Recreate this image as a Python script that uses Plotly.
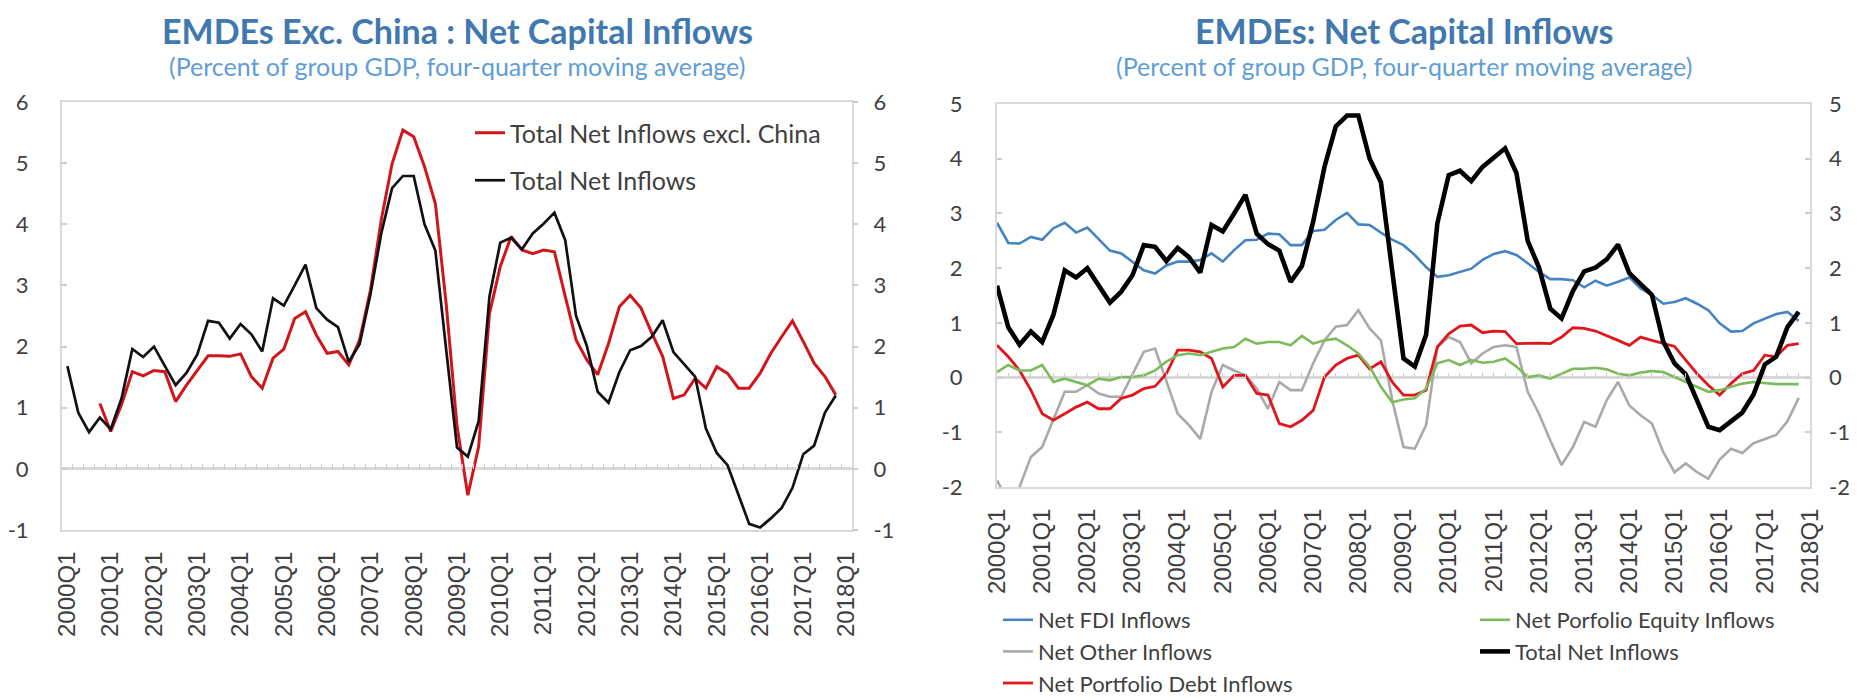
import plotly.graph_objects as go

# ---------------- data ----------------
QUARTERS = [f"{y}Q{q}" for y in range(2000, 2019) for q in range(1, 5)][:73]   # 2000Q1 .. 2018Q1
DATA_QUARTERS = QUARTERS[:72]                                                   # 2000Q1 .. 2017Q4
TICK_LABELS = [f"{y}Q1" for y in range(2000, 2019)]

L_YTICKS = [-1, 0, 1, 2, 3, 4, 5, 6]
R_YTICKS = [-2, -1, 0, 1, 2, 3, 4, 5]

TOTAL_NET = [1.68, 0.92, 0.60, 0.84, 0.65, 1.15, 1.96, 1.83, 2.00, 1.68, 1.37, 1.57,
             1.87, 2.42, 2.39, 2.13, 2.37, 2.20, 1.92, 2.79, 2.67, 3.00, 3.34, 2.63,
             2.44, 2.32, 1.75, 2.04, 2.85, 3.85, 4.59, 4.79, 4.79, 4.00, 3.57, 1.95,
             0.35, 0.20, 0.78, 2.82, 3.70, 3.78, 3.59, 3.85, 4.01, 4.19, 3.74, 2.50,
             2.01, 1.26, 1.08, 1.58, 1.94, 2.01, 2.16, 2.43, 1.91, 1.71, 1.51, 0.66,
             0.26, 0.06, -0.43, -0.90, -0.96, -0.81, -0.64, -0.31, 0.24, 0.38, 0.92, 1.20]

TOTAL_EXCL_CHINA = [None, None, None, 1.07, 0.61, 1.05, 1.59, 1.52, 1.61, 1.59, 1.10, 1.37,
                    1.61, 1.85, 1.85, 1.84, 1.88, 1.51, 1.32, 1.81, 1.96, 2.46, 2.57, 2.19,
                    1.89, 1.92, 1.70, 2.11, 2.92, 4.07, 4.99, 5.54, 5.43, 4.94, 4.34, 2.70,
                    0.70, -0.43, 0.36, 2.54, 3.31, 3.80, 3.58, 3.52, 3.58, 3.55, 2.82, 2.11,
                    1.78, 1.54, 2.05, 2.65, 2.84, 2.63, 2.22, 1.84, 1.15, 1.21, 1.48, 1.32,
                    1.67, 1.56, 1.32, 1.32, 1.56, 1.89, 2.16, 2.42, 2.08, 1.73, 1.51, 1.21]

NET_FDI = [2.83, 2.46, 2.45, 2.57, 2.52, 2.73, 2.83, 2.65, 2.74, 2.52, 2.32, 2.27,
           2.12, 1.96, 1.90, 2.05, 2.12, 2.12, 2.15, 2.27, 2.12, 2.33, 2.51, 2.52,
           2.63, 2.62, 2.42, 2.42, 2.68, 2.70, 2.88, 3.01, 2.80, 2.79, 2.65, 2.52,
           2.42, 2.24, 2.02, 1.84, 1.87, 1.93, 1.99, 2.15, 2.26, 2.31, 2.24, 2.09,
           1.93, 1.80, 1.80, 1.78, 1.65, 1.77, 1.68, 1.75, 1.83, 1.63, 1.51, 1.35,
           1.38, 1.45, 1.35, 1.23, 0.99, 0.84, 0.85, 0.99, 1.08, 1.16, 1.20, 1.04]

NET_EQUITY = [0.10, 0.23, 0.13, 0.13, 0.23, -0.08, -0.02, -0.08, -0.14, -0.02, -0.05, 0.01,
              0.01, 0.04, 0.13, 0.29, 0.41, 0.44, 0.41, 0.47, 0.53, 0.56, 0.71, 0.62,
              0.65, 0.65, 0.59, 0.76, 0.62, 0.68, 0.71, 0.59, 0.44, 0.20, -0.17, -0.45,
              -0.40, -0.38, -0.20, 0.26, 0.32, 0.23, 0.32, 0.27, 0.29, 0.35, 0.20, 0.01,
              0.04, -0.02, 0.07, 0.16, 0.16, 0.18, 0.15, 0.07, 0.04, 0.09, 0.12, 0.10,
              0.01, -0.08, -0.17, -0.26, -0.23, -0.17, -0.11, -0.08, -0.10, -0.12, -0.12, -0.12]

NET_OTHER = [-1.88, -2.25, -2.00, -1.45, -1.27, -0.75, -0.26, -0.26, -0.14, -0.29, -0.35, -0.35,
             0.07, 0.47, 0.53, -0.05, -0.66, -0.87, -1.12, -0.26, 0.23, 0.13, 0.04, -0.20,
             -0.57, -0.08, -0.23, -0.23, 0.26, 0.68, 0.93, 0.96, 1.23, 0.90, 0.68, -0.41,
             -1.27, -1.30, -0.87, 0.56, 0.74, 0.65, 0.26, 0.44, 0.56, 0.59, 0.56, -0.26,
             -0.66, -1.15, -1.60, -1.27, -0.81, -0.90, -0.41, -0.08, -0.51, -0.69, -0.84, -1.36,
             -1.73, -1.57, -1.73, -1.85, -1.50, -1.30, -1.38, -1.20, -1.12, -1.05, -0.80, -0.37]

NET_DEBT = [0.59, 0.38, 0.13, -0.23, -0.66, -0.78, -0.66, -0.54, -0.45, -0.57, -0.57, -0.38,
            -0.32, -0.20, -0.16, 0.07, 0.50, 0.50, 0.47, 0.35, -0.17, 0.04, 0.04, -0.29,
            -0.32, -0.84, -0.90, -0.78, -0.60, 0.01, 0.23, 0.35, 0.41, 0.16, 0.29, -0.08,
            -0.32, -0.32, -0.23, 0.56, 0.80, 0.94, 0.96, 0.82, 0.85, 0.84, 0.62, 0.63,
            0.63, 0.62, 0.74, 0.91, 0.90, 0.85, 0.77, 0.68, 0.59, 0.74, 0.68, 0.62,
            0.57, 0.32, 0.07, -0.14, -0.32, -0.11, 0.07, 0.13, 0.41, 0.38, 0.59, 0.62]

# ---------------- geometry ----------------
# The page body has an 8px margin, so the figure is made 8px smaller and all
# screen positions are converted to figure positions by subtracting 8.
OFF = 8
W, H = 1870 - OFF, 698 - OFF
def fx(px):
    return (px - OFF) / W
def fy(py):
    return 1 - (py - OFF) / H
def px_x(a, b):
    return [fx(a), fx(b)]
def px_y(top, bottom):
    return [fy(bottom), fy(top)]

L_XD = px_x(62, 852)
L_YD = px_y(102, 530)
R_XD = px_x(997, 1810)
R_YD = px_y(104, 487)

L_RANGE = [-1, 6]
R_RANGE = [-2, 5]
def zero_pos(dom, rng):
    return dom[0] + (0 - rng[0]) / (rng[1] - rng[0]) * (dom[1] - dom[0])

FRAME = "#d9d9d9"
TICKC = "#cccccc"
TXT = "#404040"
TITLE_C = "#4178b0"
SUB_C = "#5f9dd6"
FONT = "Lato"
AXFONT = "Liberation Sans"

RED_L = "#d0161c"
RED_R = "#e0161c"
BLUE = "#4683c1"
GREEN = "#7dba5b"
GRAY = "#a9a9a9"

fig = go.Figure()

# ---- left panel ----
fig.add_trace(go.Scatter(x=DATA_QUARTERS, y=TOTAL_EXCL_CHINA, name="Total Net Inflows excl. China",
                         mode="lines", line=dict(color=RED_L, width=3), xaxis="x", yaxis="y",
                         legend="legend", legendgroup="a"))
fig.add_trace(go.Scatter(x=DATA_QUARTERS, y=TOTAL_NET, name="Total Net Inflows",
                         mode="lines", line=dict(color="#111111", width=2.7), xaxis="x2", yaxis="y2",
                         legend="legend", legendgroup="b"))

# ---- right panel ----
fig.add_trace(go.Scatter(x=DATA_QUARTERS, y=NET_FDI, name="Net FDI Inflows", mode="lines",
                         line=dict(color=BLUE, width=2.6), xaxis="x3", yaxis="y3", legend="legend2"))
fig.add_trace(go.Scatter(x=DATA_QUARTERS, y=NET_OTHER, name="Net Other Inflows", mode="lines",
                         line=dict(color=GRAY, width=2.6), xaxis="x3", yaxis="y3", legend="legend2"))
fig.add_trace(go.Scatter(x=DATA_QUARTERS, y=NET_DEBT, name="Net Portfolio Debt Inflows", mode="lines",
                         line=dict(color=RED_R, width=2.8), xaxis="x3", yaxis="y3", legend="legend2"))
fig.add_trace(go.Scatter(x=DATA_QUARTERS, y=NET_EQUITY, name="Net Porfolio Equity Inflows", mode="lines",
                         line=dict(color=GREEN, width=2.6), xaxis="x3", yaxis="y3", legend="legend3"))
fig.add_trace(go.Scatter(x=DATA_QUARTERS, y=TOTAL_NET, name="Total Net Inflows", mode="lines",
                         line=dict(color="#000000", width=4.6), xaxis="x4", yaxis="y4", legend="legend3"))

cat_base = dict(type="category", categoryorder="array", categoryarray=QUARTERS,
                showgrid=False, zeroline=False, fixedrange=True)

cat_common = dict(tickmode="array", tickvals=TICK_LABELS, tickangle=-90,
                  tickfont=dict(family=AXFONT, size=24, color=TXT),
                  showline=True, mirror=True, linecolor=FRAME, linewidth=2,
                  ticks="", ticklabelstandoff=10, **cat_base)

y_common = dict(showgrid=False, zeroline=True, tickmode="array",
                zerolinecolor=FRAME, zerolinewidth=2.5,
                tickfont=dict(family=FONT, size=22, color=TXT),
                ticklen=5, tickcolor=TICKC, tickwidth=1.5, fixedrange=True)

def yticks(vals):
    return dict(tickvals=vals, ticktext=[str(v) for v in vals])

zero_common = dict(tickmode="linear", tick0=0, dtick=1, ticks="inside", ticklen=5,
                   tickwidth=1.3, tickcolor=TICKC, showline=False, showticklabels=False,
                   anchor="free", **cat_base)

fig.update_layout(
    width=W, height=H, autosize=False,
    margin=dict(l=0, r=0, t=0, b=0, autoexpand=False),
    template="none",
    paper_bgcolor="white", plot_bgcolor="white",
    font=dict(family=FONT, color=TXT),
    # left panel
    xaxis=dict(domain=L_XD, anchor="y", range=[-0.5, 72.5], **cat_common),
    yaxis=dict(domain=L_YD, anchor="x", range=L_RANGE, ticks="inside",
               showline=True, mirror=True, linecolor=FRAME, linewidth=2,
               ticklabelstandoff=27, **yticks(L_YTICKS), **y_common),
    yaxis2=dict(overlaying="y", side="right", anchor="x", range=L_RANGE, ticks="outside",
                ticklabelstandoff=11, showline=False, **yticks(L_YTICKS), **y_common),
    xaxis2=dict(overlaying="x", domain=L_XD, range=[-0.5, 72.5], tickson="boundaries",
                position=zero_pos(L_YD, L_RANGE), **zero_common),
    # right panel
    xaxis3=dict(domain=R_XD, anchor="y3", range=[0, 72], **cat_common),
    yaxis3=dict(domain=R_YD, anchor="x3", range=R_RANGE, ticks="inside",
                showline=True, mirror=True, linecolor=FRAME, linewidth=2,
                ticklabelstandoff=28, **yticks(R_YTICKS), **y_common),
    yaxis4=dict(overlaying="y3", side="right", anchor="x3", range=R_RANGE, ticks="inside",
                ticklabelstandoff=18, showline=False, **yticks(R_YTICKS), **y_common),
    xaxis4=dict(overlaying="x3", domain=R_XD, range=[0, 72],
                position=zero_pos(R_YD, R_RANGE), **zero_common),
    legend=dict(x=fx(470), y=fy(110), xanchor="left", yanchor="top",
                bgcolor="rgba(0,0,0,0)", font=dict(family=FONT, size=25, color=TXT),
                tracegroupgap=12, traceorder="grouped"),
    legend2=dict(x=fx(998), y=fy(599), xanchor="left", yanchor="top",
                 bgcolor="rgba(0,0,0,0)", font=dict(family=FONT, size=22, color=TXT),
                 tracegroupgap=0, traceorder="normal"),
    legend3=dict(x=fx(1475), y=fy(599), xanchor="left", yanchor="top",
                 bgcolor="rgba(0,0,0,0)", font=dict(family=FONT, size=22, color=TXT),
                 tracegroupgap=0, traceorder="normal"),
    showlegend=True,
)

# titles
L_CX = (L_XD[0] + L_XD[1]) / 2
R_CX = (R_XD[0] + R_XD[1]) / 2
for cx, title in [(L_CX, "EMDEs Exc. China : Net Capital Inflows"), (R_CX, "EMDEs: Net Capital Inflows")]:
    fig.add_annotation(x=cx, y=1.0, xref="paper", yref="paper", text=f"<b>{title}</b>",
                       showarrow=False, xanchor="center", yanchor="top",
                       font=dict(family=FONT, size=34, color=TITLE_C))
    fig.add_annotation(x=cx, y=fy(66), xref="paper", yref="paper",
                       text="(Percent of group GDP, four-quarter moving average)",
                       showarrow=False, xanchor="center", yanchor="middle",
                       font=dict(family=FONT, size=25, color=SUB_C))

fig.write_html("out.html")
